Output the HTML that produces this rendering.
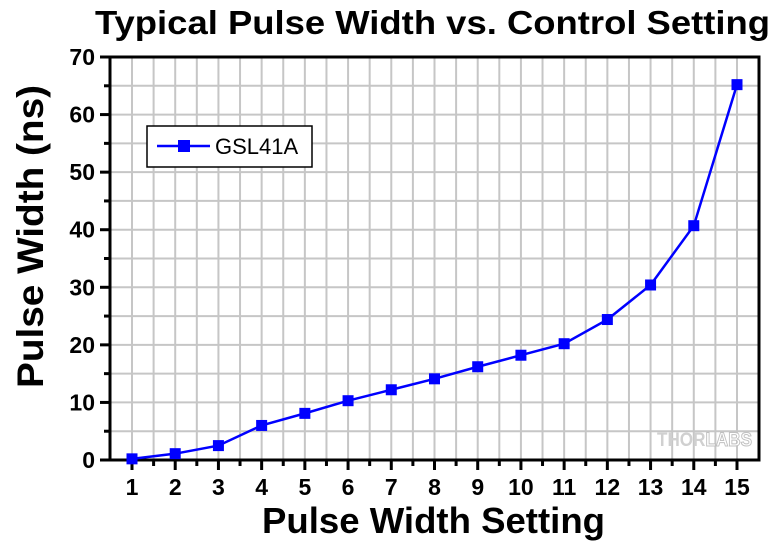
<!DOCTYPE html>
<html><head><style>body{margin:0;background:#fff}svg{display:block}</style></head><body>
<svg width="780" height="543" xmlns="http://www.w3.org/2000/svg" font-family="Liberation Sans, Arial, sans-serif">
<rect width="780" height="543" fill="#fff"/>
<g id="grid" stroke="#c6c6c6" stroke-width="2"></g>
<text x="657" y="446" font-size="19" font-weight="bold" fill="#d0d0d0" textLength="95" lengthAdjust="spacingAndGlyphs">THOR<tspan fill="#fff" stroke="#c0c0c0" stroke-width="1">LABS</tspan></text>
<rect x="110" y="57" width="649" height="403" fill="none" stroke="#000" stroke-width="3"/>
<g id="ticks" stroke="#000" stroke-width="3"></g>
<polyline id="line" fill="none" stroke="#0000ff" stroke-width="2.5"/>
<g id="pts" fill="#0000ff"></g>
<g id="xl" font-size="23" font-weight="bold" text-anchor="middle"></g>
<g id="yl" font-size="23" font-weight="bold" text-anchor="end"></g>
<text x="95" y="34" font-size="33" font-weight="bold" textLength="675" lengthAdjust="spacingAndGlyphs">Typical Pulse Width vs. Control Setting</text>
<text x="262" y="533" font-size="36" font-weight="bold" textLength="343" lengthAdjust="spacingAndGlyphs">Pulse Width Setting</text>
<text transform="translate(43,388) rotate(-90)" font-size="37" font-weight="bold" textLength="303" lengthAdjust="spacingAndGlyphs">Pulse Width (ns)</text>
<rect x="147" y="126" width="165" height="41" fill="#fff" stroke="#000" stroke-width="1.5"/>
<line x1="157" y1="146" x2="210" y2="146" stroke="#0000ff" stroke-width="2.5"/>
<rect x="178" y="140" width="12" height="12" fill="#0000ff"/>
<text x="215" y="154" font-size="22">GSL41A</text>
<script>
var ns="http://www.w3.org/2000/svg";
function el(p,t,a,txt){var e=document.createElementNS(ns,t);for(var k in a)e.setAttribute(k,a[k]);if(txt!=null)e.textContent=txt;document.getElementById(p).appendChild(e);}
var X=function(v){return 132+(v-1)*43.214}, Y=function(v){return 460-v*5.757};
for(var i=0;i<30;i++){var x=132+i*21.607;if(x<758)el("grid","line",{x1:x,y1:57,x2:x,y2:460});}
for(var v=5;v<70;v+=5)el("grid","line",{x1:110,y1:Y(v),x2:759,y2:Y(v)});
for(var i=0;i<30;i++){var x=132+i*21.607;if(x<758)el("ticks","line",{x1:x,y1:460,x2:x,y2:i%2?466:470});}
for(var v=0;v<=70;v+=5)el("ticks","line",{x1:110,y1:Y(v),x2:v%10?104:100,y2:Y(v)});
var d=[0.2,1.1,2.5,6,8.1,10.3,12.2,14.1,16.2,18.2,20.2,24.4,30.4,40.7,65.2];
var pts=d.map(function(v,i){return X(i+1)+","+Y(v)}).join(" ");
document.getElementById("line").setAttribute("points",pts);
d.forEach(function(v,i){el("pts","rect",{x:X(i+1)-5.5,y:Y(v)-5.5,width:11,height:11});el("xl","text",{x:X(i+1),y:495},i+1);});
for(var v=0;v<=70;v+=10)el("yl","text",{x:95,y:Y(v)+8},v);
</script>
</svg>
</body></html>
